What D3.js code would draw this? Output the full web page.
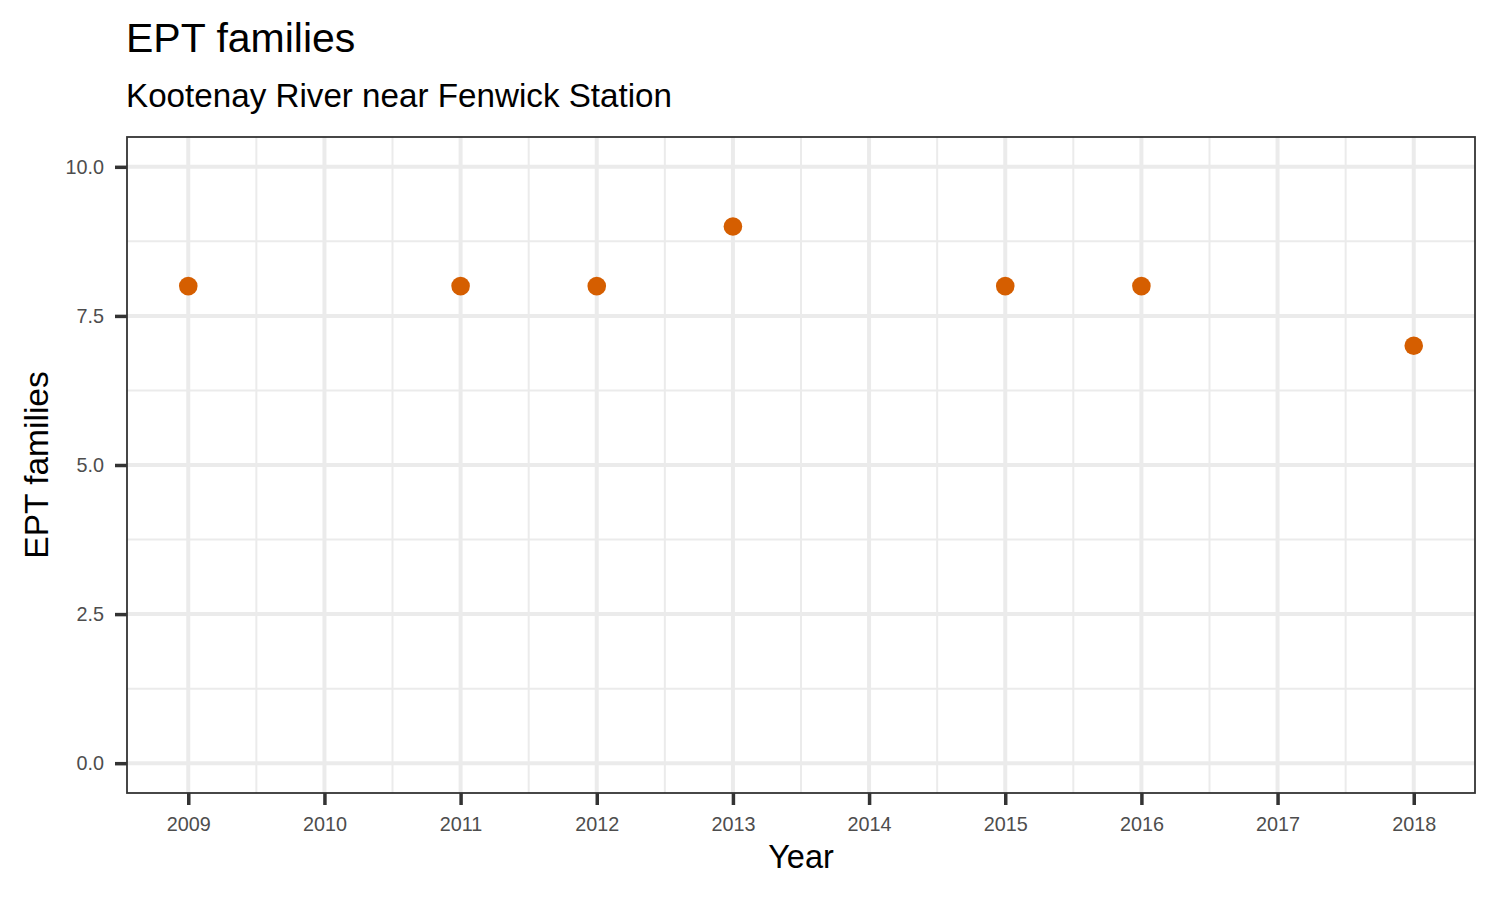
<!DOCTYPE html>
<html>
<head>
<meta charset="utf-8">
<script src="https://cdn.jsdelivr.net/npm/d3@7"></script>
<style>
  body { margin: 0; background: #fff; }
  text { font-family: "Liberation Sans", Arial, sans-serif; }
</style>
</head>
<body>
<svg id="chart" width="1500" height="900"></svg>
<script>
const years = [2009, 2011, 2012, 2013, 2015, 2016, 2018];
const eptFamilies = [8, 8, 8, 9, 8, 8, 7];
const xTicks = [2009, 2010, 2011, 2012, 2013, 2014, 2015, 2016, 2017, 2018];
const yTicks = [0, 2.5, 5, 7.5, 10];
const yMinor = [1.25, 3.75, 6.25, 8.75];
const xMinor = [2009.5, 2010.5, 2011.5, 2012.5, 2013.5, 2014.5, 2015.5, 2016.5, 2017.5];

(function () {
const svg = d3.select("#chart");
const pL = 127, pR = 1475, pT = 137, pB = 793;

const x = d3.scaleLinear().domain([2008.55, 2018.45]).range([pL, pR]);
const y = d3.scaleLinear().domain([-0.5, 10.5]).range([pB, pT]);

const grid = svg.append("g");
grid.selectAll(".ymin").data(yMinor).enter().append("line")
  .attr("x1", pL).attr("x2", pR).attr("y1", d => y(d)).attr("y2", d => y(d))
  .attr("stroke", "#ebebeb").attr("stroke-width", 2);
grid.selectAll(".xmin").data(xMinor).enter().append("line")
  .attr("y1", pT).attr("y2", pB).attr("x1", d => x(d)).attr("x2", d => x(d))
  .attr("stroke", "#ebebeb").attr("stroke-width", 2);
grid.selectAll(".ymaj").data(yTicks).enter().append("line")
  .attr("x1", pL).attr("x2", pR).attr("y1", d => y(d)).attr("y2", d => y(d))
  .attr("stroke", "#ebebeb").attr("stroke-width", 4);
grid.selectAll(".xmaj").data(xTicks).enter().append("line")
  .attr("y1", pT).attr("y2", pB).attr("x1", d => x(d)).attr("x2", d => x(d))
  .attr("stroke", "#ebebeb").attr("stroke-width", 4);

svg.append("g").selectAll("circle").data(years).enter().append("circle")
  .attr("cx", d => x(d)).attr("cy", (d, i) => y(eptFamilies[i]))
  .attr("r", 9.3).attr("fill", "#d55e00");

svg.append("rect").attr("x", pL).attr("y", pT)
  .attr("width", pR - pL).attr("height", pB - pT)
  .attr("fill", "none").attr("stroke", "#333333").attr("stroke-width", 1.8);

const xAxis = d3.axisBottom(x).tickValues(xTicks).tickFormat(d3.format("d"))
  .tickSize(12).tickPadding(12);
const gx = svg.append("g").attr("transform", `translate(0,${pB})`).call(xAxis);
gx.select(".domain").remove();
gx.selectAll(".tick line").attr("stroke", "#333333").attr("stroke-width", 3.5);
gx.selectAll(".tick text").attr("fill", "#4d4d4d").attr("font-size", 19.8)
  .attr("font-family", "Liberation Sans, Arial, sans-serif");

const yAxis = d3.axisLeft(y).tickValues(yTicks).tickFormat(d3.format(".1f"))
  .tickSize(12).tickPadding(11);
const gy = svg.append("g").attr("transform", `translate(${pL},0)`).call(yAxis);
gy.select(".domain").remove();
gy.selectAll(".tick line").attr("stroke", "#333333").attr("stroke-width", 3.5);
gy.selectAll(".tick text").attr("fill", "#4d4d4d").attr("font-size", 19.8)
  .attr("font-family", "Liberation Sans, Arial, sans-serif");

svg.append("text").attr("x", 126).attr("y", 52).attr("font-size", 41)
  .attr("fill", "#000").text("EPT families");
svg.append("text").attr("x", 126).attr("y", 107).attr("font-size", 33.2)
  .attr("fill", "#000").text("Kootenay River near Fenwick Station");
svg.append("text").attr("x", (pL + pR) / 2).attr("y", 868).attr("font-size", 32.5)
  .attr("text-anchor", "middle").attr("fill", "#000").text("Year");
svg.append("text").attr("transform", `translate(48,${(pT + pB) / 2}) rotate(-90)`)
  .attr("font-size", 33.5).attr("text-anchor", "middle").attr("fill", "#000").text("EPT families");
})();
</script>
</body>
</html>
